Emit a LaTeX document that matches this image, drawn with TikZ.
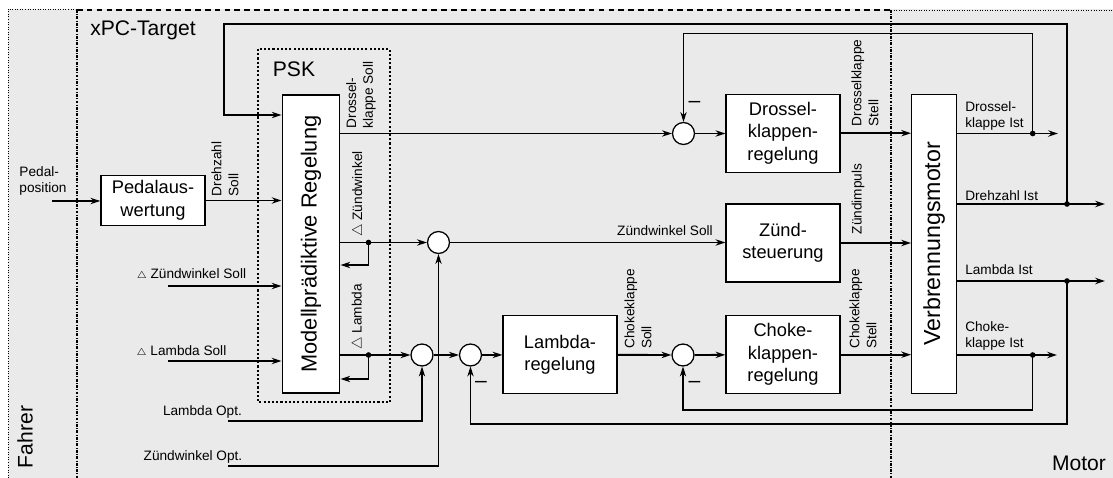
\documentclass[tikz,border=0pt]{standalone}
\usepackage{graphicx}
\usepackage{fontspec}
\setmainfont{Liberation Sans}
\usetikzlibrary{arrows.meta}

\definecolor{bggray}{RGB}{234,234,234}

\begin{document}
\begin{tikzpicture}[x=0.025cm, y=-0.025cm, >={Stealth[length=7pt,width=4.5pt]},
  blk/.style={draw, fill=white, line width=0.9pt, align=center,
    minimum width=81pt, minimum height=55.5pt, font={\fontsize{13}{16}\selectfont}},
  sum/.style={circle, draw, fill=white, line width=0.9pt, minimum size=15.6pt, inner sep=0pt},
  sig/.style={line width=1.3pt},
  fb/.style={line width=0.8pt},
  lbl/.style={font={\fontsize{9.7}{12}\selectfont}, align=left, inner sep=0pt},
  big/.style={font={\fontsize{15}{18}\selectfont}, inner sep=0pt},
  minus/.style={font={\fontsize{15}{16}\selectfont}, inner sep=0pt},
  divider/.style={line width=0.8pt, dash pattern=on 2pt off 1pt on 0.6pt off 1pt}]
  \useasboundingbox (0,0) rectangle (1113,478);

  % Areas
  \fill[bggray] (8,9) rectangle (1113,478);
  \draw[line width=0.6pt, dash pattern=on 0.6pt off 1.2pt] (8,478) -- (8,9) -- (77,9);
  \draw[line width=0.6pt, dash pattern=on 0.6pt off 1.2pt] (891,10) -- (1113,10);
  \draw[line width=0.8pt, dash pattern=on 4pt off 3pt] (77,10) -- (891,10);
  \draw[divider] (77,10) -- (77,478);
  \draw[divider] (891,10) -- (891,478);
  \draw[line width=0.8pt, dash pattern=on 1.5pt off 1.5pt] (258,49) rectangle (390,402);

  \node[big] (xpc) at (143,30) {xPC-Target};
  \node[big] (psk) at (294,69) {PSK};
  \node[big, rotate=90] (fahrer) at (25,437) {Fahrer};
  \node[big] (motor) at (1079,463) {Motor};

  % Blocks
  \node[blk, minimum width=74pt, minimum height=36pt] (pa) at (153,200.5) {Pedalaus-\\wertung};
  \node[blk, minimum width=41pt, minimum height=212pt, font={\fontsize{15.5}{18}\selectfont}]
    (mpr) at (311,244) {\rotatebox{90}{Modellprädiktive Regelung}};
  \node[blk] (dk) at (783,133.2) {Drossel-\\klappen-\\regelung};
  \node[blk] (zs) at (783,243) {Zünd-\\steuerung};
  \node[blk] (lr) at (560,354.7) {Lambda-\\regelung};
  \node[blk] (ck) at (783,354.7) {Choke-\\klappen-\\regelung};
  \node[blk, minimum width=32pt, minimum height=212.7pt, font={\fontsize{16.5}{18}\selectfont}]
    (vm) at (934.2,243.8) {\rotatebox{90}{Verbrennungsmotor}};

  % Summing points
  \node[sum] (s1) at (683.5,133.5) {};
  \node[sum] (s2) at (438.5,242.5) {};
  \node[sum] (s3) at (422,355) {};
  \node[sum] (s4) at (470.5,355) {};
  \node[sum] (s5) at (683,355) {};

  % Free ends and branch points
  \coordinate (pin) at (52,201);
  \coordinate (zin) at (168,286);
  \coordinate (lin) at (168,361);
  \coordinate (lopt) at (228,421);
  \coordinate (zopt) at (228,466);
  \coordinate (dz) at (368.5,242.5);
  \coordinate (dl) at (368.5,355);
  \coordinate (o1) at (1058,133.5);
  \coordinate (o2) at (1105,204);
  \coordinate (o3) at (1105,281);
  \coordinate (o4) at (1057,355);
  \coordinate (ddk) at (1032.7,133.5);
  \coordinate (ddz) at (1067,204);
  \coordinate (dli) at (1067,281);
  \coordinate (dck) at (1032.7,355);
  \coordinate (fbt) at (224,24);

  % Signals
  \draw[sig,->] (pin) -- (pin -| pa.west);
  \draw[sig,->] (pa) -- (pa -| mpr.west);
  \draw[sig,->] (zin) -- (zin -| mpr.west);
  \draw[sig,->] (lin) -- (lin -| mpr.west);
  \draw[sig,->] (mpr.east |- s1) -- (s1);
  \draw[sig,->] (mpr.east |- s2) -- (s2);
  \draw[sig,->] (mpr.east |- s3) -- (s3);
  \draw[sig,->] (s1) -- (s1 -| dk.west);
  \draw[sig,->] (s2) -- (s2 -| zs.west);
  \draw[sig,->] (s3) -- (s4);
  \draw[sig,->] (s4) -- (lr);
  \draw[sig,->] (lr) -- (s5);
  \draw[sig,->] (s5) -- (ck);
  \draw[sig,->] (dk) -- (dk -| vm.west);
  \draw[sig,->] (zs) -- (zs -| vm.west);
  \draw[sig,->] (ck) -- (ck -| vm.west);
  \draw[sig,->] (vm.east |- o1) -- (o1);
  \draw[sig,->] (vm.east |- o2) -- (o2);
  \draw[sig,->] (vm.east |- o3) -- (o3);
  \draw[sig,->] (vm.east |- o4) -- (o4);

  % Local loops at the controller
  \draw[line width=1pt,->] (dz) -- ++(0,22.5) coordinate (zb) -- (zb -| mpr.east);
  \draw[line width=1pt,->] (dl) -- ++(0,24) coordinate (lb) -- (lb -| mpr.east);

  % Feedback and optimum values
  \draw[fb,->] (ddz) |- (fbt) -- ++(0,91) coordinate (fbm) -- (fbm -| mpr.west);
  \draw[fb,->] (ddk) -- ++(0,-100) -| (s1.north);
  \draw[fb,->] (dck) -- ++(0,55) -| (s5.south);
  \draw[fb,->] (dli) -- ++(0,143) -| (s4.south);
  \draw[fb,->] (lopt) -| (s3.south);
  \draw[fb,->] (zopt) -| (s2.south);

  \foreach \p in {dz, dl, ddk, ddz, dli, dck}
    \fill (\p) circle (2pt);

  % Labels
  \node[lbl] (lpin) at (43,181) {Pedal-\\position};
  \node[lbl, rotate=90] (ldsoll) at (225,169) {Drehzahl\\Soll};
  \node[lbl, rotate=90] (ldksoll) at (361,95) {Drossel-\\klappe Soll};
  \node[lbl, rotate=90] (ldz) at (358.5,194) {$\triangle$ Zündwinkel};
  \node[lbl, rotate=90] (ldl) at (358,317) {$\triangle$ Lambda};
  \node[lbl] (lzin) at (191.5,275) {${\scriptstyle\triangle}$ Zündwinkel Soll};
  \node[lbl] (llin) at (181.5,351.5) {${\scriptstyle\triangle}$ Lambda Soll};
  \node[lbl] (llopt) at (202.5,411.5) {Lambda Opt.};
  \node[lbl] (lzopt) at (193,456.5) {Zündwinkel Opt.};
  \node[lbl] (lzsoll) at (665,231) {Zündwinkel Soll};
  \node[lbl, rotate=90] (lcsoll) at (638,309) {Chokeklappe\\Soll};
  \node[lbl, rotate=90] (ldstell) at (865,83) {Drosselklappe\\Stell};
  \node[lbl, rotate=90] (lzimp) at (858,199) {Zündimpuls};
  \node[lbl, rotate=90] (lcstell) at (863,309) {Chokeklappe\\Stell};
  \node[lbl, anchor=west] (ldist) at (965,116) {Drossel-\\klappe Ist};
  \node[lbl, anchor=west] (lnist) at (965,196) {Drehzahl Ist};
  \node[lbl, anchor=west] (llist) at (965,270) {Lambda Ist};
  \node[lbl, anchor=west] (lcist) at (965,336) {Choke-\\klappe Ist};
  \node[minus] (m1) at (694.5,104) {–};
  \node[minus] (m4) at (481,384) {–};
  \node[minus] (m5) at (694.5,384) {–};
\end{tikzpicture}
\end{document}
